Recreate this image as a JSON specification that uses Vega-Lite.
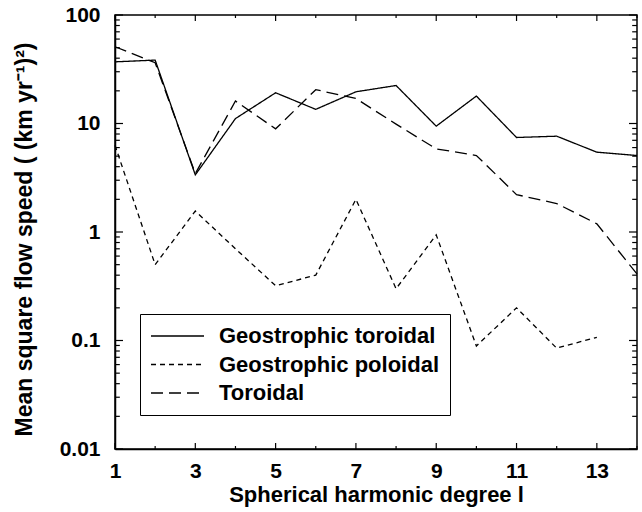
{
  "$schema": "https://vega.github.io/schema/vega-lite/v6.json",
  "autosize": "none",
  "padding": {"left": 115, "top": 15, "right": 5, "bottom": 63},
  "width": 522,
  "height": 434,
  "config": {
    "view": {"stroke": "black", "strokeWidth": 1.5},
    "font": "Liberation Sans",
    "axis": {"grid": false, "domainColor": "black", "domainWidth": 1.5, "labelColor": "black", "titleColor": "black", "labelFont": "Liberation Sans", "titleFont": "Liberation Sans", "labelFontWeight": "bold", "titleFontWeight": "bold", "labelFontSize": 21, "titleFontSize": 22}
  },
  "datasets": {
    "flow": [
      {"l": 1, "series": "Geostrophic toroidal", "v": 37},
      {"l": 2, "series": "Geostrophic toroidal", "v": 38.4},
      {"l": 3, "series": "Geostrophic toroidal", "v": 3.36},
      {"l": 4, "series": "Geostrophic toroidal", "v": 11.1},
      {"l": 5, "series": "Geostrophic toroidal", "v": 19.2},
      {"l": 6, "series": "Geostrophic toroidal", "v": 13.5},
      {"l": 7, "series": "Geostrophic toroidal", "v": 19.6},
      {"l": 8, "series": "Geostrophic toroidal", "v": 22.4},
      {"l": 9, "series": "Geostrophic toroidal", "v": 9.45},
      {"l": 10, "series": "Geostrophic toroidal", "v": 17.9},
      {"l": 11, "series": "Geostrophic toroidal", "v": 7.43},
      {"l": 12, "series": "Geostrophic toroidal", "v": 7.64},
      {"l": 13, "series": "Geostrophic toroidal", "v": 5.44},
      {"l": 14, "series": "Geostrophic toroidal", "v": 5.07},
      {"l": 1, "series": "Geostrophic poloidal", "v": 6.3},
      {"l": 2, "series": "Geostrophic poloidal", "v": 0.5},
      {"l": 3, "series": "Geostrophic poloidal", "v": 1.56},
      {"l": 4, "series": "Geostrophic poloidal", "v": 0.7},
      {"l": 5, "series": "Geostrophic poloidal", "v": 0.32},
      {"l": 6, "series": "Geostrophic poloidal", "v": 0.4},
      {"l": 7, "series": "Geostrophic poloidal", "v": 2.0},
      {"l": 8, "series": "Geostrophic poloidal", "v": 0.3},
      {"l": 9, "series": "Geostrophic poloidal", "v": 0.94},
      {"l": 10, "series": "Geostrophic poloidal", "v": 0.089},
      {"l": 11, "series": "Geostrophic poloidal", "v": 0.2},
      {"l": 12, "series": "Geostrophic poloidal", "v": 0.085},
      {"l": 13, "series": "Geostrophic poloidal", "v": 0.107},
      {"l": 1, "series": "Toroidal", "v": 51},
      {"l": 2, "series": "Toroidal", "v": 36.3},
      {"l": 3, "series": "Toroidal", "v": 3.45},
      {"l": 4, "series": "Toroidal", "v": 16.1},
      {"l": 5, "series": "Toroidal", "v": 8.93},
      {"l": 6, "series": "Toroidal", "v": 20.5},
      {"l": 7, "series": "Toroidal", "v": 17.0},
      {"l": 8, "series": "Toroidal", "v": 9.86},
      {"l": 9, "series": "Toroidal", "v": 5.84},
      {"l": 10, "series": "Toroidal", "v": 5.07},
      {"l": 11, "series": "Toroidal", "v": 2.21},
      {"l": 12, "series": "Toroidal", "v": 1.83},
      {"l": 13, "series": "Toroidal", "v": 1.19},
      {"l": 14, "series": "Toroidal", "v": 0.41}
    ],
    "xticks": [
      {"t": 1, "major": true}, {"t": 2, "major": false}, {"t": 3, "major": true}, {"t": 4, "major": false},
      {"t": 5, "major": true}, {"t": 6, "major": false}, {"t": 7, "major": true}, {"t": 8, "major": false},
      {"t": 9, "major": true}, {"t": 10, "major": false}, {"t": 11, "major": true}, {"t": 12, "major": false},
      {"t": 13, "major": true}, {"t": 14, "major": false}
    ],
    "yticks": [
      {"t": 0.01, "major": true}, {"t": 0.02, "major": false}, {"t": 0.03, "major": false}, {"t": 0.04, "major": false}, {"t": 0.05, "major": false}, {"t": 0.06, "major": false}, {"t": 0.07, "major": false}, {"t": 0.08, "major": false}, {"t": 0.09, "major": false},
      {"t": 0.1, "major": true}, {"t": 0.2, "major": false}, {"t": 0.3, "major": false}, {"t": 0.4, "major": false}, {"t": 0.5, "major": false}, {"t": 0.6, "major": false}, {"t": 0.7, "major": false}, {"t": 0.8, "major": false}, {"t": 0.9, "major": false},
      {"t": 1, "major": true}, {"t": 2, "major": false}, {"t": 3, "major": false}, {"t": 4, "major": false}, {"t": 5, "major": false}, {"t": 6, "major": false}, {"t": 7, "major": false}, {"t": 8, "major": false}, {"t": 9, "major": false},
      {"t": 10, "major": true}, {"t": 20, "major": false}, {"t": 30, "major": false}, {"t": 40, "major": false}, {"t": 50, "major": false}, {"t": 60, "major": false}, {"t": 70, "major": false}, {"t": 80, "major": false}, {"t": 90, "major": false},
      {"t": 100, "major": true}
    ]
  },
  "layer": [
    {
      "data": {"name": "flow"},
      "mark": {"type": "line", "color": "black", "strokeWidth": 1.3},
      "encoding": {
        "x": {
          "field": "l", "type": "quantitative",
          "scale": {"domain": [1, 14], "nice": false, "zero": false},
          "axis": {
            "orient": "bottom",
            "title": "Spherical harmonic degree l",
            "titlePadding": 3,
            "values": [1, 3, 5, 7, 9, 11, 13],
            "labelFlush": false,
            "labelOverlap": false,
            "ticks": false,
            "labelPadding": 11
          }
        },
        "y": {
          "field": "v", "type": "quantitative",
          "scale": {"type": "log", "domain": [0.01, 100], "nice": false},
          "axis": {
            "orient": "left",
            "title": "Mean square flow speed ( (km yr⁻¹)²)",
            "titleFontSize": 23,
            "titlePadding": 23,
            "titleY": 224,
            "values": [0.01, 0.1, 1, 10, 100],
            "format": "~g",
            "labelFlush": false,
            "labelOverlap": false,
            "ticks": false,
            "labelPadding": 15
          }
        },
        "strokeDash": {
          "field": "series", "type": "nominal",
          "scale": {"domain": ["Geostrophic toroidal", "Geostrophic poloidal", "Toroidal"], "range": [[1, 0], [5, 4], [12, 6]]},
          "legend": {
            "title": null,
            "orient": "none",
            "legendX": 25,
            "legendY": 299,
            "symbolType": "stroke",
            "symbolSize": 2809,
            "symbolStrokeColor": "black",
            "symbolStrokeWidth": 1.3,
            "labelFont": "Liberation Sans",
            "labelFontWeight": "bold",
            "labelFontSize": 22,
            "labelColor": "black",
            "labelOffset": 14,
            "clipHeight": 24,
            "rowPadding": 4.5,
            "padding": 10,
            "strokeColor": "black",
            "fillColor": "white",
            "labelLimit": 400
          }
        }
      }
    },
    {
      "data": {"name": "xticks"},
      "transform": [{"filter": "datum.major"}],
      "mark": {"type": "rule", "color": "black", "strokeWidth": 1.2},
      "encoding": {
        "x": {"field": "t", "type": "quantitative"},
        "y": {"datum": 0.01, "type": "quantitative"},
        "y2": {"datum": 0.01136}
      }
    },
    {
      "data": {"name": "xticks"},
      "transform": [{"filter": "!datum.major"}],
      "mark": {"type": "rule", "color": "black", "strokeWidth": 1.2},
      "encoding": {
        "x": {"field": "t", "type": "quantitative"},
        "y": {"datum": 0.01, "type": "quantitative"},
        "y2": {"datum": 0.01066}
      }
    },
    {
      "data": {"name": "xticks"},
      "transform": [{"filter": "datum.major"}],
      "mark": {"type": "rule", "color": "black", "strokeWidth": 1.2},
      "encoding": {
        "x": {"field": "t", "type": "quantitative"},
        "y": {"datum": 100, "type": "quantitative"},
        "y2": {"datum": 88}
      }
    },
    {
      "data": {"name": "xticks"},
      "transform": [{"filter": "!datum.major"}],
      "mark": {"type": "rule", "color": "black", "strokeWidth": 1.2},
      "encoding": {
        "x": {"field": "t", "type": "quantitative"},
        "y": {"datum": 100, "type": "quantitative"},
        "y2": {"datum": 93.8}
      }
    },
    {
      "data": {"name": "yticks"},
      "transform": [{"filter": "datum.major"}],
      "mark": {"type": "rule", "color": "black", "strokeWidth": 1.2},
      "encoding": {
        "y": {"field": "t", "type": "quantitative"},
        "x": {"datum": 1, "type": "quantitative"},
        "x2": {"datum": 1.2}
      }
    },
    {
      "data": {"name": "yticks"},
      "transform": [{"filter": "!datum.major"}],
      "mark": {"type": "rule", "color": "black", "strokeWidth": 1.2},
      "encoding": {
        "y": {"field": "t", "type": "quantitative"},
        "x": {"datum": 1, "type": "quantitative"},
        "x2": {"datum": 1.12}
      }
    },
    {
      "data": {"name": "yticks"},
      "transform": [{"filter": "datum.major"}],
      "mark": {"type": "rule", "color": "black", "strokeWidth": 1.2},
      "encoding": {
        "y": {"field": "t", "type": "quantitative"},
        "x": {"datum": 14, "type": "quantitative"},
        "x2": {"datum": 13.8}
      }
    },
    {
      "data": {"name": "yticks"},
      "transform": [{"filter": "!datum.major"}],
      "mark": {"type": "rule", "color": "black", "strokeWidth": 1.2},
      "encoding": {
        "y": {"field": "t", "type": "quantitative"},
        "x": {"datum": 14, "type": "quantitative"},
        "x2": {"datum": 13.88}
      }
    }
  ]
}
